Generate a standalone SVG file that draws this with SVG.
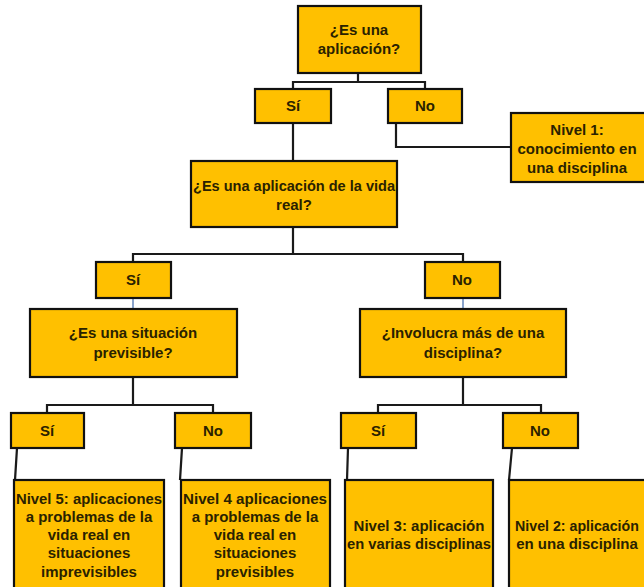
<svg xmlns="http://www.w3.org/2000/svg" width="644" height="587" viewBox="0 0 644 587">
<style>
.box{fill:#FFC000;stroke:#111;stroke-width:2.2}
.t{font-family:"Liberation Sans",Arial,sans-serif;font-weight:bold;font-size:15px;fill:#2a2200;text-anchor:middle}
.c{fill:none;stroke:#1a1a1a;stroke-width:2.2}
.cb{fill:none;stroke:#8aa4cc;stroke-width:2}
</style>
<rect width="644" height="587" fill="#fff"/>
<g id="connectors">
<path class="c" d="M358 73V82M293 89V82H425V89"/>
<path class="c" d="M293 123V161"/>
<path class="c" d="M396 123V147H511"/>
<path class="c" d="M293 227V254M133 262V254H463V262"/>
<path class="cb" d="M133 298V309"/>
<path class="cb" d="M463 298V309"/>
<path class="c" d="M133 377V405M47 413V405H213V413"/>
<path class="c" d="M463 377V405M378 413V405H541V413"/>
<path class="c" d="M17 448L15 480"/>
<path class="c" d="M182 448L180 480"/>
<path class="c" d="M348 448L347 480"/>
<path class="c" d="M512 448L509 480"/>
</g>
<g id="q1"><rect class="box" x="298" y="6" width="123" height="67"/><text class="t" x="359" y="35">¿Es una</text><text class="t" x="359" y="54">aplicación?</text></g>
<g id="si1"><rect class="box" x="255" y="89" width="76" height="34"/><text class="t" x="293" y="111">Sí</text></g>
<g id="no1"><rect class="box" x="388" y="89" width="74" height="34"/><text class="t" x="425" y="111">No</text></g>
<g id="nivel1"><rect class="box" x="511" y="113" width="140" height="69"/><text class="t" x="577" y="135">Nivel 1:</text><text class="t" x="577" y="154">conocimiento en</text><text class="t" x="577" y="173">una disciplina</text></g>
<g id="q2"><rect class="box" x="191" y="161" width="206" height="66"/><text class="t" x="294" y="191" textLength="202" lengthAdjust="spacingAndGlyphs">¿Es una aplicación de la vida</text><text class="t" x="294" y="210">real?</text></g>
<g id="si2"><rect class="box" x="96" y="262" width="75" height="36"/><text class="t" x="133" y="285">Sí</text></g>
<g id="no2"><rect class="box" x="425" y="262" width="75" height="36"/><text class="t" x="462" y="285">No</text></g>
<g id="q3"><rect class="box" x="30" y="309" width="207" height="68"/><text class="t" x="133" y="338">¿Es una situación</text><text class="t" x="133" y="358">previsible?</text></g>
<g id="q4"><rect class="box" x="360" y="309" width="206" height="68"/><text class="t" x="463" y="338">¿Involucra más de una</text><text class="t" x="463" y="358">disciplina?</text></g>
<g id="si3"><rect class="box" x="11" y="413" width="73" height="35"/><text class="t" x="47" y="436">Sí</text></g>
<g id="no3"><rect class="box" x="175" y="413" width="76" height="35"/><text class="t" x="213" y="436">No</text></g>
<g id="si4"><rect class="box" x="341" y="413" width="75" height="35"/><text class="t" x="378" y="436">Sí</text></g>
<g id="no4"><rect class="box" x="503" y="413" width="75" height="35"/><text class="t" x="540" y="436">No</text></g>
<g id="nivel5"><rect class="box" x="14" y="480" width="150" height="115"/><text class="t" x="89" y="504" textLength="146" lengthAdjust="spacingAndGlyphs">Nivel 5: aplicaciones</text><text class="t" x="89" y="522">a problemas de la</text><text class="t" x="89" y="540">vida real en</text><text class="t" x="89" y="558">situaciones</text><text class="t" x="89" y="577">imprevisibles</text></g>
<g id="nivel4"><rect class="box" x="181" y="480" width="149" height="115"/><text class="t" x="255" y="504" textLength="144" lengthAdjust="spacingAndGlyphs">Nivel 4 aplicaciones</text><text class="t" x="255" y="522">a problemas de la</text><text class="t" x="255" y="540">vida real en</text><text class="t" x="255" y="558">situaciones</text><text class="t" x="255" y="577">previsibles</text></g>
<g id="nivel3"><rect class="box" x="345" y="480" width="148" height="115"/><text class="t" x="419" y="531">Nivel 3: aplicación</text><text class="t" x="419" y="549" textLength="144" lengthAdjust="spacingAndGlyphs">en varias disciplinas</text></g>
<g id="nivel2"><rect class="box" x="509" y="480" width="150" height="115"/><text class="t" x="577" y="531" style="font-size:14.2px">Nivel 2: aplicación</text><text class="t" x="577" y="549">en una disciplina</text></g>
</svg>
